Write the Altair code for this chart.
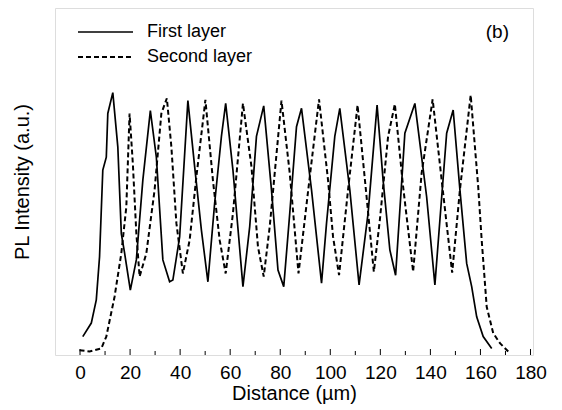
import altair as alt
import pandas as pd

# First layer (solid)
d1 = [1.1, 4.5, 6.5, 7.8, 9.1, 10.5, 11.1, 13.1, 15.1, 16.5, 17.8, 20.1, 22.5, 25.1, 28.1,
      30.5, 33.1, 35.8, 37.1, 39.8, 43.1, 45.8, 48.5, 51.1, 53.8, 56.5, 58.2, 61.1, 65.1,
      67.8, 70.5, 73.4, 76.5, 79.1, 81.4, 83.8, 86.5, 88.5, 92.5, 96.5, 98.5, 101.8, 103.8,
      107.8, 111.5, 115.1, 118.7, 121.1, 123.8, 126.1, 129.8, 133.8, 136.5, 138.5, 141.8,
      143.8, 146.5, 149.1, 151.8, 154.5, 156.5, 158.5, 161.1, 164.5]
i1 = [5.3, 9.2, 15.9, 28.3, 53.3, 57.0, 69.6, 75.6, 60.0, 35.0, 29.4, 18.7, 27.4, 50.4, 70.4,
      57.0, 27.4, 21.1, 21.6, 34.0, 73.3, 54.3, 36.0, 21.1, 43.8, 63.0, 72.5, 53.3, 19.7,
      37.0, 63.0, 71.8, 47.6, 24.5, 19.7, 40.8, 65.8, 71.1, 47.6, 20.7, 38.0, 63.0, 71.1,
      47.6, 20.2, 40.8, 72.0, 50.4, 30.3, 23.0, 63.9, 72.5, 57.0, 45.6, 20.2,
      38.9, 63.9, 70.6, 47.6, 26.4, 19.7, 11.0, 5.3, 1.9]

# Second layer (dashed)
d2 = [-0.2, 3.8, 8.5, 10.5, 13.8, 16.5, 18.5, 19.8, 21.1, 22.5, 23.8, 26.5, 29.8, 32.5, 34.7,
      36.5, 38.5, 41.1, 43.8, 46.5, 50.1, 53.1, 55.8, 58.2, 61.1, 65.1, 68.5, 71.1, 73.4,
      75.8, 80.5, 83.8, 87.3, 91.5, 95.5, 99.1, 101.1, 103.5, 107.1, 110.9, 114.5, 117.4,
      119.8, 123.1, 125.8, 129.1, 133.1, 136.5, 140.9, 144.5, 148.7, 151.8, 156.1, 159.1,
      160.5, 162.5, 165.1, 167.8, 171.1]
i2 = [1.4, 1.0, 1.9, 5.3, 16.8, 29.3, 42.7, 69.6, 55.2, 35.1, 22.6, 29.3, 47.6, 69.6, 74.0,
      60.0, 38.0, 23.5, 33.1, 51.4, 73.5, 50.4, 33.1, 23.5, 40.8, 72.5, 54.3, 31.2, 22.6,
      37.0, 73.3, 52.4, 23.5, 49.5, 73.7, 50.4, 34.1, 23.0, 47.6, 72.0, 45.6, 24.0,
      38.9, 63.0, 72.3, 48.5, 24.0, 52.4, 73.7, 50.4, 23.7, 47.6, 74.9, 48.5,
      33.1, 13.9, 6.3, 3.4, 1.0]

series_names = ["First layer", "Second layer"]
x_ticks_major = list(range(0, 181, 20))
x_ticks_minor = list(range(10, 180, 20))

df1 = pd.DataFrame({"d": d1, "I": i1, "layer": series_names[0]})
df2 = pd.DataFrame({"d": d2, "I": i2, "layer": series_names[1]})

FONT = "Liberation Sans"
W, H = 478, 347

xscale = alt.Scale(domain=[-10, 181], nice=False, zero=False)
yscale = alt.Scale(domain=[0, 100], nice=False, zero=False)

xaxis = alt.Axis(values=x_ticks_major, title="Distance (µm)", ticks=False, tickSize=0,
                 labelPadding=8, labelFontSize=19, titleFontSize=20,
                 titleFontWeight="normal", labelFont=FONT, titleFont=FONT,
                 labelColor="black", titleColor="black", titlePadding=1,
                 domain=False, grid=False)
yaxis = alt.Axis(title="PL Intensity (a.u.)", labels=False, ticks=False, domain=False,
                 grid=False, titleFontSize=20, titleFontWeight="normal",
                 titleFont=FONT, titleColor="black", titlePadding=23)

line1 = alt.Chart(df1).mark_line(color="black", strokeWidth=1.7).encode(
    x=alt.X("d:Q", scale=xscale, axis=xaxis),
    y=alt.Y("I:Q", scale=yscale, axis=yaxis),
)
line2 = alt.Chart(df2).mark_line(color="black", strokeWidth=2, strokeDash=[5, 3]).encode(
    x=alt.X("d:Q", scale=xscale),
    y=alt.Y("I:Q", scale=yscale),
)

major = alt.Chart(pd.DataFrame({"t": x_ticks_major})).mark_rule(color="black", strokeWidth=1).encode(
    x=alt.X("t:Q", scale=xscale), y=alt.value(H), y2=alt.value(H - 6))
minor = alt.Chart(pd.DataFrame({"t": x_ticks_minor})).mark_rule(color="black", strokeWidth=1).encode(
    x=alt.X("t:Q", scale=xscale), y=alt.value(H), y2=alt.value(H - 4))

leg1 = alt.Chart().mark_rule(color="black", strokeWidth=1.7).encode(
    x=alt.value(23), x2=alt.value(78), y=alt.value(24))
leg2 = alt.Chart().mark_rule(color="black", strokeWidth=2, strokeDash=[5, 3]).encode(
    x=alt.value(23), x2=alt.value(78), y=alt.value(49))
legt1 = alt.Chart().mark_text(text=series_names[0], align="left", baseline="middle",
                              font=FONT, fontSize=18, color="black").encode(
    x=alt.value(92), y=alt.value(24))
legt2 = alt.Chart().mark_text(text=series_names[1], align="left", baseline="middle",
                              font=FONT, fontSize=18, color="black").encode(
    x=alt.value(92), y=alt.value(49))
label_b = alt.Chart().mark_text(text="(b)", align="right", baseline="middle",
                                font=FONT, fontSize=19, color="black").encode(
    x=alt.value(454), y=alt.value(24))

chart = alt.layer(line1, line2, major, minor, leg1, leg2, legt1, legt2, label_b).properties(
    width=W, height=H,
    autosize=alt.AutoSizeParams(type="none"),
    padding={"left": 55, "top": 8, "right": 29, "bottom": 55},
).configure_view(stroke="black", strokeWidth=1.5).configure(background="white")

chart.save("out.html", embed_options={"renderer": "svg", "actions": False})
